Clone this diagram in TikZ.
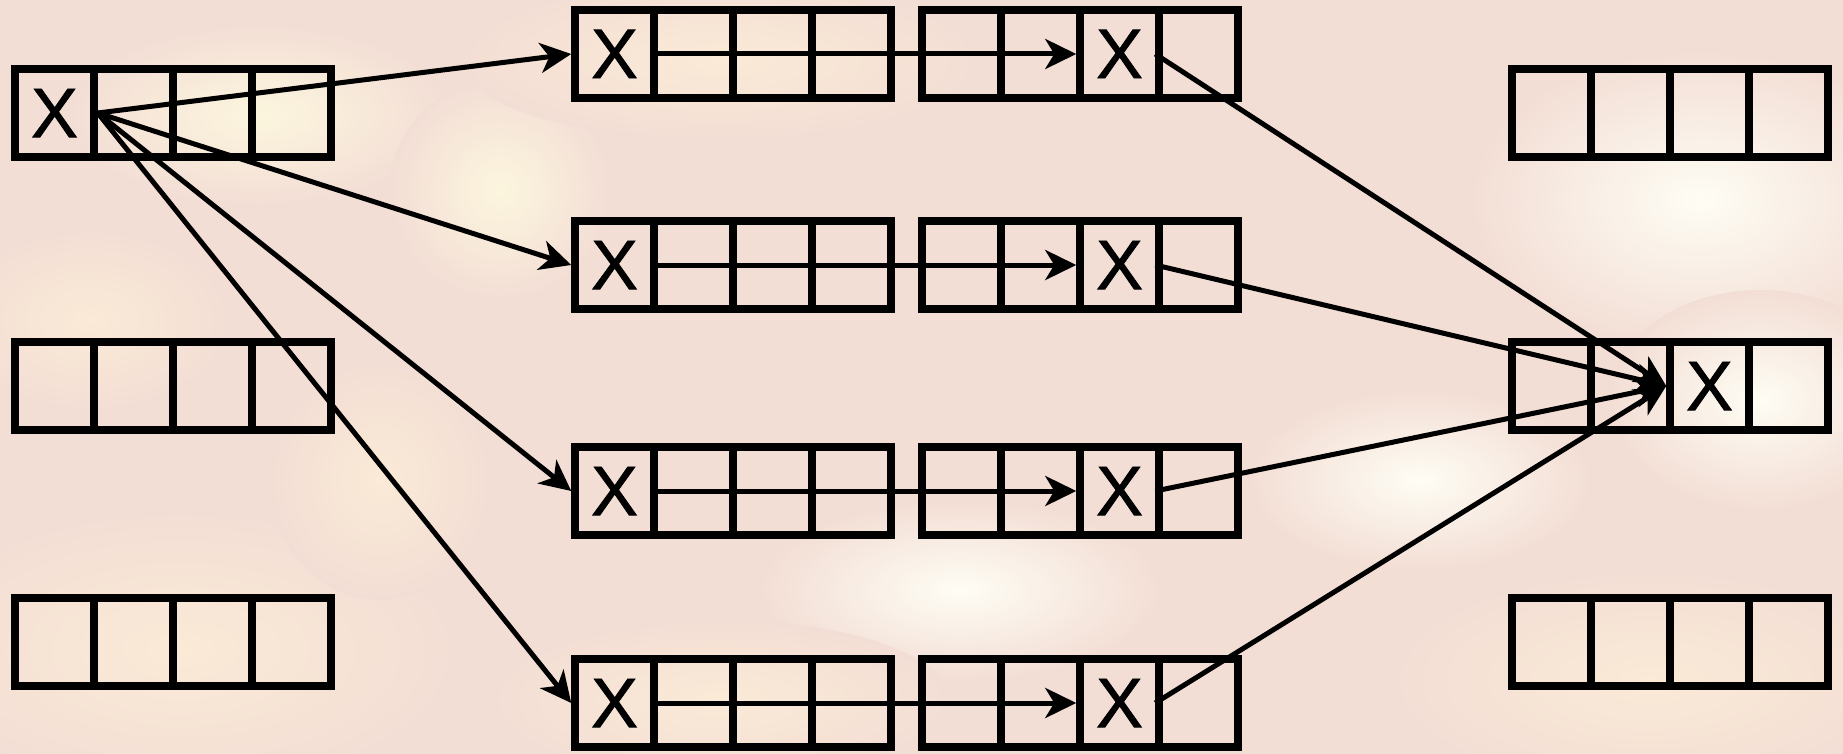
\documentclass[tikz,border=0pt]{standalone}
\usepackage{fontspec}
\setmainfont{Liberation Sans}
\newfontfamily\xfont[FakeBold=1.2]{Liberation Sans}
\usetikzlibrary{arrows.meta}
\definecolor{bgpink}{RGB}{243,222,213}
\definecolor{bgcream}{RGB}{250,234,214}
\definecolor{bgyellow}{RGB}{252,246,222}
\definecolor{bgwhite}{RGB}{254,253,244}
\tikzset{
  cell/.style={draw=black, line width=7.5pt, minimum width=79pt, minimum height=88pt,
    inner sep=0pt, outer sep=3.75pt, font=\xfont\fontsize{70}{70}\selectfont},
  link/.style={draw=black, line width=5pt,
    -{Stealth[length=31pt, width=30pt, inset=9pt]}},
  patch/.style={outer color=bgpink}
}
\newcommand\boxrow[7]{%
  \node[cell] (#1a) at (#2+39.5,#3) {#4};
  \node[cell] (#1b) at (#2+118.5,#3) {#5};
  \node[cell] (#1c) at (#2+197.5,#3) {#6};
  \node[cell] (#1d) at (#2+276.5,#3) {#7};
}
\begin{document}
\begin{tikzpicture}[x=1pt,y=-1pt]
  \useasboundingbox (0,0) rectangle (1843,754);
  % background texture (approximation)
  \fill[bgpink] (0,0) rectangle (1843,754);
  \shade[patch, inner color=bgyellow] (260,115) ellipse (190 and 90);
  \shade[patch, inner color=bgyellow] (500,190) ellipse (110 and 110);
  \shade[patch, inner color=bgcream] (720,60) ellipse (260 and 80);
  \shade[patch, inner color=bgwhite] (1700,200) ellipse (230 and 150);
  \shade[patch, inner color=bgwhite] (1760,400) ellipse (150 and 110);
  \shade[patch, inner color=bgwhite] (1420,480) ellipse (170 and 90);
  \shade[patch, inner color=bgwhite] (960,590) ellipse (200 and 90);
  \shade[patch, inner color=bgcream] (720,700) ellipse (230 and 80);
  \shade[patch, inner color=bgcream] (180,650) ellipse (280 and 140);
  \shade[patch, inner color=bgcream] (90,320) ellipse (140 and 90);
  \shade[patch, inner color=bgcream] (1650,680) ellipse (260 and 110);
  \shade[patch, inner color=bgcream] (380,480) ellipse (110 and 120);
  % boxes
  \boxrow{L1}{15}{113}{X}{}{}{}
  \boxrow{L2}{15}{386}{}{}{}{}
  \boxrow{L3}{15}{642}{}{}{}{}
  \boxrow{A1}{575}{54}{X}{}{}{}
  \boxrow{A2}{575}{265}{X}{}{}{}
  \boxrow{A3}{575}{491}{X}{}{}{}
  \boxrow{A4}{575}{703}{X}{}{}{}
  \boxrow{B1}{922}{54}{}{}{X}{}
  \boxrow{B2}{922}{265}{}{}{X}{}
  \boxrow{B3}{922}{491}{}{}{X}{}
  \boxrow{B4}{922}{703}{}{}{X}{}
  \boxrow{R1}{1512}{113}{}{}{}{}
  \boxrow{R2}{1512}{386}{}{}{X}{}
  \boxrow{R3}{1512}{642}{}{}{}{}
  % connectors
  \foreach \r in {1,2,3,4}{
    \draw[link] (L1a.east) -- (A\r a.west);
    \draw[link] (A\r a.east) -- (B\r c.west);
    \draw[link] (B\r d.west) -- (R2c.west);
  }
\end{tikzpicture}
\end{document}
